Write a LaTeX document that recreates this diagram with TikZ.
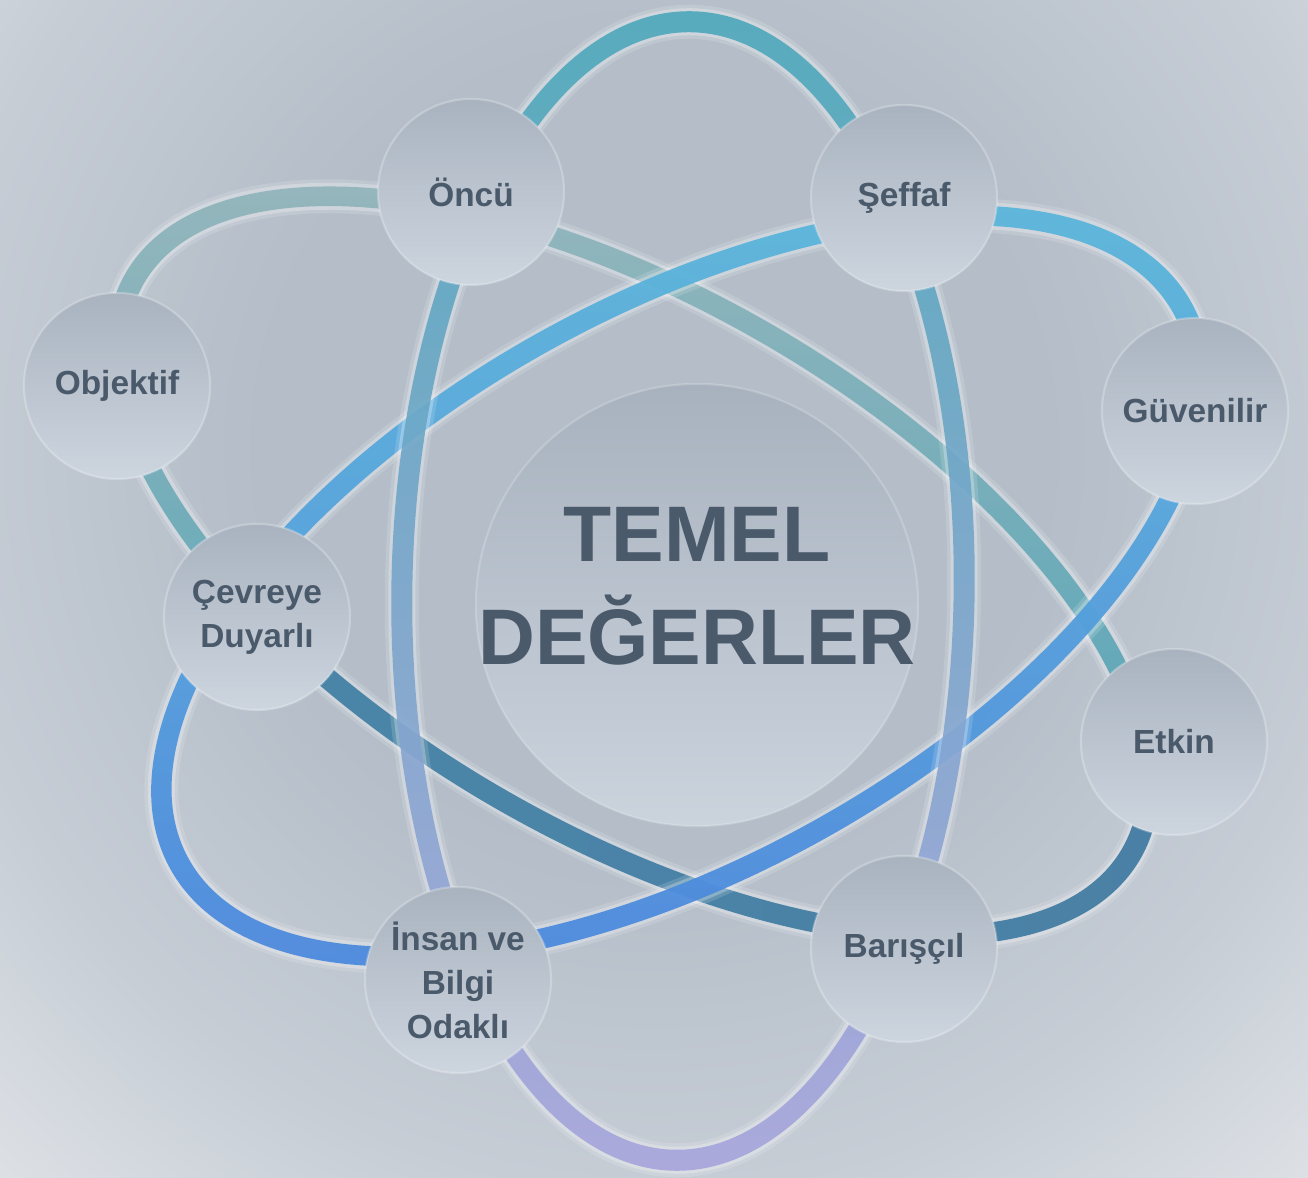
\documentclass[tikz,border=0pt]{standalone}
\usepackage{fontspec}
\setmainfont{Liberation Sans}
\definecolor{bgA}{HTML}{B4BDC8}
\definecolor{bgB}{HTML}{C6CDD5}
\definecolor{bgC}{HTML}{E2E5E9}
\definecolor{circTop}{HTML}{A9B3BF}
\definecolor{circBot}{HTML}{CDD5DF}
\definecolor{coreTop}{HTML}{A8B2BE}
\definecolor{coreBot}{HTML}{CBD3DD}
\definecolor{txt}{HTML}{4A5A6B}
\definecolor{eOneTop}{HTML}{46A6B8}
\definecolor{eOneMid}{HTML}{6E95CA}
\definecolor{eOneBot}{HTML}{A6A2DC}
\definecolor{eTwoA}{HTML}{95B6BC}
\definecolor{eTwoB}{HTML}{63A9B3}
\definecolor{eTwoC}{HTML}{58A6B8}
\definecolor{eTwoD}{HTML}{4A86A8}
\definecolor{eTwoE}{HTML}{3D7193}
\definecolor{eTwoF}{HTML}{4A80A5}
\definecolor{eThrTop}{HTML}{58B6DA}
\definecolor{eThrMid}{HTML}{4F9FDD}
\definecolor{eThrBot}{HTML}{4886DD}
\pgfdeclareradialshading{bgrad}{\pgfpoint{0bp}{0bp}}{color(0bp)=(bgA); color(13bp)=(bgA); color(24bp)=(bgB); color(34bp)=(bgC); color(50bp)=(bgC)}
\begin{document}
\begin{tikzpicture}[x=0.01cm,y=0.01cm,
  glowA/.style={white, opacity=0.14, line width=0.34cm},
  glowB/.style={white, opacity=0.26, line width=0.27cm},
  bubble/.style={circle, minimum size=1.86cm, inner sep=0pt, top color=circTop, bottom color=circBot,
    draw=white, draw opacity=0.25, line width=0.6pt, text=txt, align=center,
    font=\fontsize{9.5}{12.5}\selectfont\bfseries},
  corecircle/.style={circle, minimum size=4.42cm, inner sep=0pt, top color=coreTop, bottom color=coreBot,
    draw=white, draw opacity=0.2, line width=0.6pt},
  titletext/.style={text=txt, align=center, inner sep=0pt, font=\fontsize{22.4}{29.3}\selectfont\bfseries}]
\useasboundingbox (0,0) rectangle (1308,1178);
% background
\begin{scope}
  \clip (0,0) rectangle (1308,1178);
  \shade[shading=bgrad] (-100,-40) rectangle (1408,1500);
\end{scope}
% central disc
\node[corecircle] (core) at (697,573) {};
% orbit 2 (teal / dark)
\draw[glowA, shift={(633,612)}, rotate=-30] (0,0) ellipse [x radius=5.75cm, y radius=2.68cm];
\draw[glowB, shift={(633,612)}, rotate=-30] (0,0) ellipse [x radius=5.75cm, y radius=2.68cm];
\begin{scope}[even odd rule]
  \clip[shift={(633,612)}, rotate=-30] (0,0) ellipse [x radius=5.855cm, y radius=2.785cm] (0,0) ellipse [x radius=5.645cm, y radius=2.575cm];
  \clip (0,594.3) -- (1308,408) -- (1308,1178) -- (0,1178) -- cycle;
  \shade[top color=eTwoA, middle color=eTwoB, bottom color=eTwoC] (0,380) rectangle (1308,1000);
\end{scope}
\begin{scope}[even odd rule]
  \clip[shift={(633,612)}, rotate=-30] (0,0) ellipse [x radius=5.855cm, y radius=2.785cm] (0,0) ellipse [x radius=5.645cm, y radius=2.575cm];
  \clip (0,594.3) -- (1308,408) -- (1308,0) -- (0,0) -- cycle;
  \shade[left color=eTwoD, middle color=eTwoE, right color=eTwoF] (150,200) rectangle (1200,700);
\end{scope}
% orbit 3 (light blue)
\draw[glowA, shift={(681,592)}, rotate=29] (0,0) ellipse [x radius=5.73cm, y radius=2.80cm];
\draw[glowB, shift={(681,592)}, rotate=29] (0,0) ellipse [x radius=5.73cm, y radius=2.80cm];
\begin{scope}[even odd rule]
  \clip[shift={(681,592)}, rotate=29] (0,0) ellipse [x radius=5.835cm, y radius=2.905cm] (0,0) ellipse [x radius=5.625cm, y radius=2.695cm];
  \shade[top color=eThrTop, middle color=eThrMid, bottom color=eThrBot, opacity=0.92] (100,200) rectangle (1240,990);
\end{scope}
% orbit 1 (vertical)
\draw[glowA, shift={(683,587)}, rotate=-0.8] (0,0) ellipse [x radius=2.81cm, y radius=5.69cm];
\draw[glowB, shift={(683,587)}, rotate=-0.8] (0,0) ellipse [x radius=2.81cm, y radius=5.69cm];
\begin{scope}[even odd rule]
  \clip[shift={(683,587)}, rotate=-0.8] (0,0) ellipse [x radius=2.915cm, y radius=5.795cm] (0,0) ellipse [x radius=2.705cm, y radius=5.585cm];
  \shade[top color=eOneTop, middle color=eOneMid, bottom color=eOneBot, opacity=0.88] (380,0) rectangle (990,1178);
\end{scope}
% value bubbles
\node[bubble] (oncu) at (471,986) {Öncü};
\node[bubble] (seffaf) at (904,980) {Şeffaf};
\node[bubble] (guvenilir) at (1195,767) {Güvenilir};
\node[bubble] (objektif) at (117,792) {Objektif};
\node[bubble] (cevreye) at (257,561) {Çevreye\\Duyarlı};
\node[bubble] (etkin) at (1174,436) {Etkin};
\node[bubble] (bariscil) at (904,229) {Barışçıl};
\node[bubble] (insan) at (458,198) {İnsan ve\\Bilgi\\Odaklı};
% title
\node[titletext] (title) at (697,592) {TEMEL\\DEĞERLER};
\end{tikzpicture}
\end{document}
